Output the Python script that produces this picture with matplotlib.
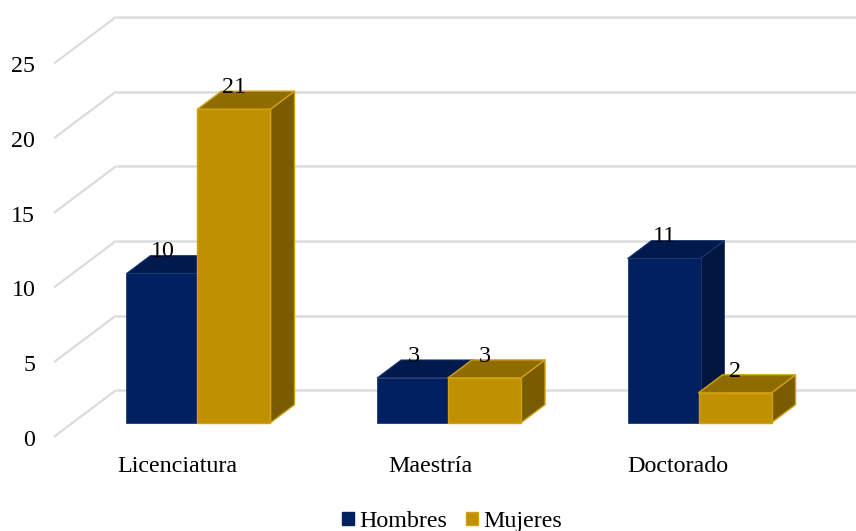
import matplotlib
matplotlib.use("Agg")
import matplotlib.pyplot as plt
from matplotlib.patches import Polygon, Patch
from matplotlib.transforms import ScaledTranslation

categories = ["Licenciatura", "Maestría", "Doctorado"]
hombres = [10, 3, 11]
mujeres = [21, 3, 2]
y_ticks = [0, 5, 10, 15, 20, 25]

W, H = 856, 531
FS = 17.3
NAVY, NAVY_TOP, NAVY_SIDE, NAVY_EDGE = "#002060", "#001A4D", "#00163F", "#1B3A78"
GOLD, GOLD_TOP, GOLD_SIDE, GOLD_EDGE = "#BF9000", "#8F6C00", "#7A5C00", "#CFA00F"
GRID = "#DCDCDC"

plt.rcParams["font.family"] = ["Liberation Serif", "DejaVu Serif"]
fig = plt.figure(figsize=(W / 100, H / 100), dpi=100)
ax_left, ax_bottom_px = 54, 437
ax = fig.add_axes([ax_left / W, (H - ax_bottom_px) / H, (W - ax_left) / W, ax_bottom_px / H])

# pixel scale of the data axes
PX_X, PX_Y = 250.5, 14.93
X0, Y0 = 199, 422.7
ax.set_xlim((ax_left - X0) / PX_X, (W - X0) / PX_X)
ax.set_ylim((Y0 - ax_bottom_px) / PX_Y, Y0 / PX_Y)

bar_w = 73 / PX_X
off_h, off_m = -36 / PX_X, 35 / PX_X
dx, dy = 24 / PX_X, 18 / PX_Y          # bar depth
wx, wy = 62 / PX_X, 46.5 / PX_Y        # wall depth

# walls: back gridlines and left diagonals
x_l = ax.get_xlim()[0]
for v in y_ticks:
    base = v - (436.7 - Y0) / PX_Y
    ax.plot([x_l, x_l + wx], [base, base + wy], color=GRID, lw=1.6, zorder=1,
            solid_capstyle="butt", clip_on=False)
    ax.plot([x_l + wx, ax.get_xlim()[1]], [base + wy, base + wy], color=GRID, lw=1.8,
            zorder=1, solid_capstyle="butt", clip_on=False)


def box(x, v, face, top, side, edge, z, lw):
    left, right = x - bar_w / 2, x + bar_w / 2
    ax.add_patch(Polygon([(right, 0), (right + dx, dy), (right + dx, v + dy), (right, v)],
                         closed=True, fc=side, ec=edge, lw=lw, zorder=z, joinstyle="round"))
    ax.add_patch(Polygon([(left, v), (left + dx, v + dy), (right + dx, v + dy), (right, v)],
                         closed=True, fc=top, ec=edge, lw=lw, zorder=z, joinstyle="round"))
    ax.bar([x], [v], width=bar_w, color=face, edgecolor=edge, linewidth=lw, zorder=z + 0.1)


for i, (h, m) in enumerate(zip(hombres, mujeres)):
    box(i + off_h, h, NAVY, NAVY_TOP, NAVY_SIDE, NAVY_EDGE, 2 + i, 0.6)
    box(i + off_m, m, GOLD, GOLD_TOP, GOLD_SIDE, GOLD_EDGE, 2.5 + i, 1.0)

for i, (h, m) in enumerate(zip(hombres, mujeres)):
    ax.text(i + off_h, h + 24 / PX_Y, str(h), ha="center", va="center_baseline", fontsize=FS,
            color="black", zorder=10)
    ax.text(i + off_m, m + 24 / PX_Y, str(m), ha="center", va="center_baseline", fontsize=FS,
            color="black", zorder=10)

ax.set_xticks(range(len(categories)), categories, fontsize=FS)
ax.set_yticks(y_ticks, [str(v) for v in y_ticks], fontsize=FS)
ax.tick_params(axis="both", length=0)
ax.tick_params(axis="y", pad=13.5)
ax.tick_params(axis="x", pad=13.5)
for sp in ax.spines.values():
    sp.set_visible(False)
ax.patch.set_visible(False)

shift_y = ScaledTranslation(0, -15 / 100, fig.dpi_scale_trans)
for lab in ax.get_yticklabels():
    lab.set_transform(lab.get_transform() + shift_y)
for lab, px in zip(ax.get_xticklabels(), [-21.5, -19, -22]):
    lab.set_transform(lab.get_transform() + ScaledTranslation(px / 100, 0, fig.dpi_scale_trans))

handles = [Patch(fc=NAVY, ec=NAVY, label="Hombres"), Patch(fc=GOLD, ec=GOLD_EDGE, label="Mujeres")]
fig.legend(handles=handles, loc="center", bbox_to_anchor=(452 / W, (H - 521.5) / H), ncol=2,
           frameon=False, fontsize=FS, handlelength=0.48, handleheight=0.5, handletextpad=0.22,
           columnspacing=0.8, borderpad=0, borderaxespad=0)

fig.savefig("out.png", dpi=100)
